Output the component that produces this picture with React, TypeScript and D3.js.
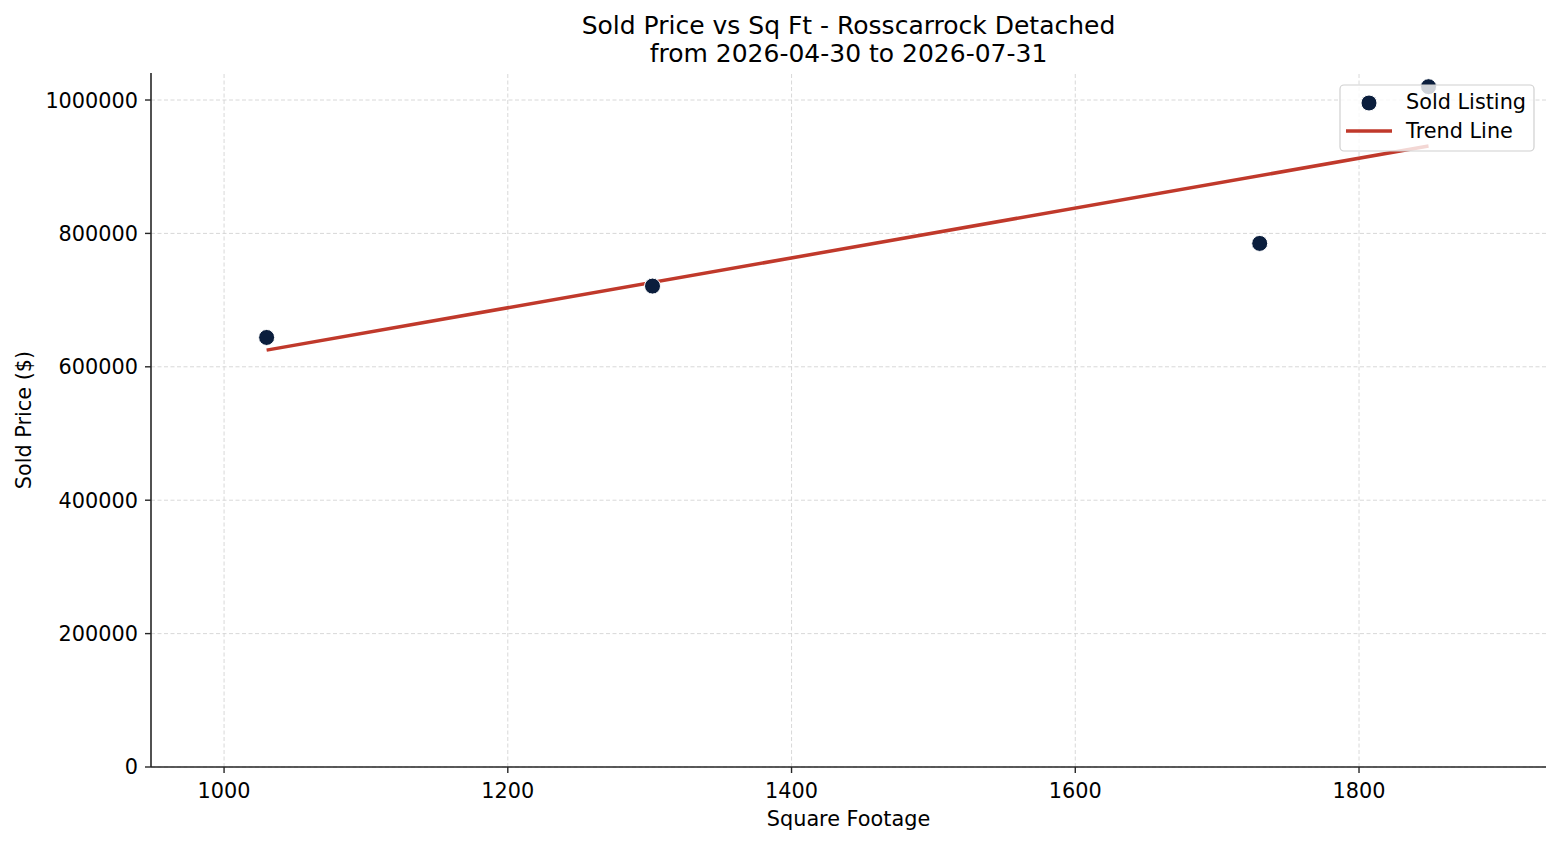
import React from 'react'
import * as d3 from 'd3'

// sold listings
const sqft = [1030, 1302, 1730, 1849]
const soldPrice = [644000, 721000, 785000, 1020000]

// fitted trend line, end points
const trendSqft = [1030, 1849]
const trendPrice = [625000, 931000]

const xTicks = [1000, 1200, 1400, 1600, 1800]
const yTicks = [0, 200000, 400000, 600000, 800000, 1000000]

const titleLines = ['Sold Price vs Sq Ft - Rosscarrock Detached', 'from 2026-04-30 to 2026-07-31']
const legendItems = ['Sold Listing', 'Trend Line']

const W = 1560
const H = 845
const margin = { top: 73, right: 14, bottom: 78, left: 151 }

const FONT = '"DejaVu Sans", sans-serif'
const POINT = '#0b1e3d'
const TREND = '#c0392b'
const INK = '#262626'
const FS = 20.8

export default function App() {
  const x = d3.scaleLinear().domain([948.5, 1931.8]).range([margin.left, W - margin.right])
  const y = d3.scaleLinear().domain([0, 1040500]).range([H - margin.bottom, margin.top])

  const [x0, x1] = x.range()
  const [y0, y1] = y.range()

  const trend = d3.line<number>()
    .x((_, i) => x(trendSqft[i]))
    .y(d => y(d))

  const lx = 1340
  const ly = 85

  return (
    <svg width={W} height={H} style={{ position: 'absolute', left: 0, top: 0 }} fontFamily={FONT}>
      <rect width={W} height={H} fill="white" />

      {/* title */}
      <text x={(x0 + x1) / 2} textAnchor="middle" fontSize={25} fill="black">
        {titleLines.map((t, i) => (
          <tspan key={i} x={(x0 + x1) / 2} y={34 + i * 28}>{t}</tspan>
        ))}
      </text>

      {/* grid */}
      <g stroke="#d4d4d4" strokeWidth={0.9} strokeDasharray="4,2.5">
        {xTicks.map(t => <line key={'gx' + t} x1={x(t)} x2={x(t)} y1={y0} y2={y1} />)}
        {yTicks.map(t => <line key={'gy' + t} x1={x0} x2={x1} y1={y(t)} y2={y(t)} />)}
      </g>

      {/* trend line */}
      <path d={trend(trendPrice) || ''} fill="none" stroke={TREND} strokeWidth={3.5} />

      {/* points */}
      {sqft.map((s, i) => (
        <circle key={i} cx={x(s)} cy={y(soldPrice[i])} r={8} fill={POINT} stroke="white" strokeWidth={1} />
      ))}

      {/* spines */}
      <line x1={x0} x2={x0} y1={y0} y2={y1} stroke={INK} strokeWidth={1.6} />
      <line x1={x0} x2={x1} y1={y0} y2={y0} stroke={INK} strokeWidth={1.6} />

      {/* x axis */}
      {xTicks.map(t => (
        <g key={'xt' + t}>
          <line x1={x(t)} x2={x(t)} y1={y0} y2={y0 + 6} stroke={INK} strokeWidth={1.4} />
          <text x={x(t)} y={y0 + 31} textAnchor="middle" fontSize={FS}>{t}</text>
        </g>
      ))}
      <text x={(x0 + x1) / 2} y={826} textAnchor="middle" fontSize={FS}>Square Footage</text>

      {/* y axis */}
      {yTicks.map(t => (
        <g key={'yt' + t}>
          <line x1={x0 - 6} x2={x0} y1={y(t)} y2={y(t)} stroke={INK} strokeWidth={1.4} />
          <text x={x0 - 13} y={y(t)} dy="0.36em" textAnchor="end" fontSize={FS}>{d3.format('d')(t)}</text>
        </g>
      ))}
      <text transform={`translate(31, ${(y0 + y1) / 2}) rotate(-90)`} textAnchor="middle" fontSize={FS}>Sold Price ($)</text>

      {/* legend */}
      <g>
        <rect x={lx} y={ly} width={194} height={66} rx={4} fill="white" fillOpacity={0.8} stroke="#d0d0d0" strokeWidth={1.2} />
        <circle cx={lx + 29} cy={ly + 18} r={8} fill={POINT} stroke="white" strokeWidth={1} />
        <line x1={lx + 6} x2={lx + 52} y1={ly + 46} y2={ly + 46} stroke={TREND} strokeWidth={3.5} />
        {legendItems.map((t, i) => (
          <text key={t} x={lx + 66} y={ly + 17 + i * 29} dy="0.36em" fontSize={FS}>{t}</text>
        ))}
      </g>
    </svg>
  )
}
